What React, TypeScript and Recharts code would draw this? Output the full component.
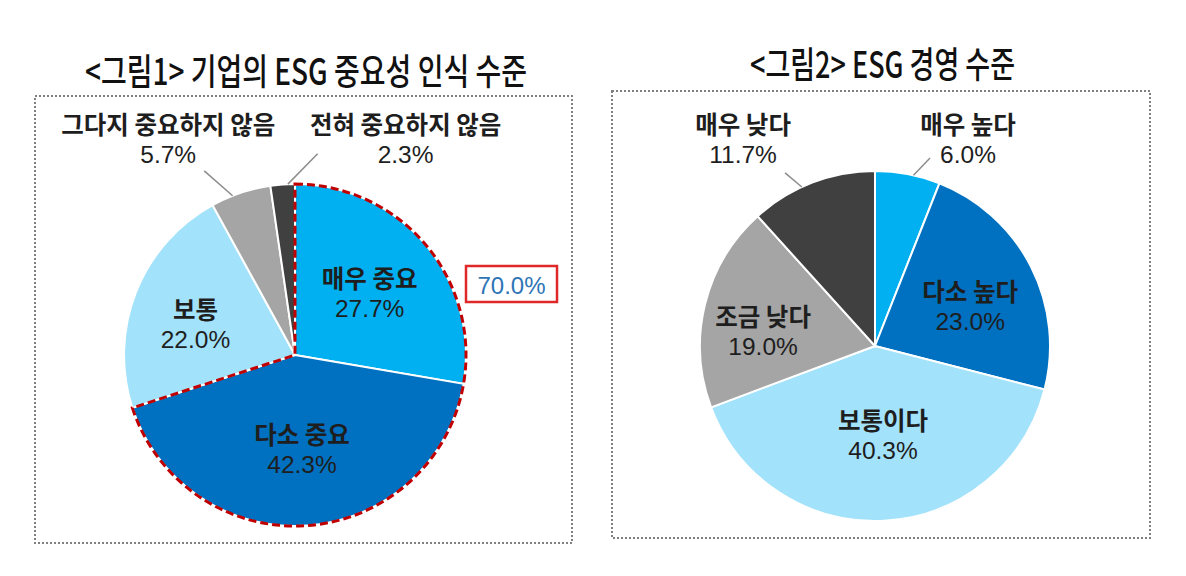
import React from "react";
import { PieChart, Pie, Cell } from "recharts";

// <그림1> 기업의 ESG 중요성 인식 수준
const LEFT_NAMES = ["매우 중요", "다소 중요", "보통", "그다지 중요하지 않음", "전혀 중요하지 않음"];
const LEFT_VALUES = [27.7, 42.3, 22.0, 5.7, 2.3];

// <그림2> ESG 경영 수준
const RIGHT_NAMES = ["매우 높다", "다소 높다", "보통이다", "조금 낮다", "매우 낮다"];
const RIGHT_VALUES = [6.0, 23.0, 40.3, 19.0, 11.7];

const SLICE_COLORS = ["#00B0F0", "#0070C0", "#A3E2FB", "#A5A5A5", "#404040"];

// 라벨 위치: [각도(deg), 반지름 배율]
const LEFT_LABEL_AT: [number, number][] = [
  [40, 0.57],
  [-85.7, 0.55],
  [162.6, 0.61],
  [120.4, 1.465],
  [62.9, 1.42],
];
const RIGHT_LABEL_AT: [number, number][] = [
  [65.8, 1.297],
  [22.8, 0.59],
  [-84.8, 0.505],
  [171.9, 0.646],
  [122.5, 1.403],
];

// 지시선: [시작 각도, 라벨 기준 끝점 dx, dy]
const LEFT_LEADERS: ([number, number, number] | null)[] = [null, null, null, [111.4, 36, 32], [92.4, -88, 15]];
const RIGHT_LEADERS: ([number, number, number] | null)[] = [[77.3, -38, 19], null, null, null, [114.7, 42, 34]];

const RADIAN = Math.PI / 180;
const KR_FONT = '"Noto Sans CJK KR", "Noto Sans", sans-serif';
const NUM_FONT = '"Liberation Sans", Arial, sans-serif';
const NO_MARGIN = { top: 0, right: 0, bottom: 0, left: 0 };

function polar(cx: number, cy: number, r: number, deg: number) {
  return { x: cx + r * Math.cos(deg * RADIAN), y: cy - r * Math.sin(deg * RADIAN) };
}

function makeLabel(
  names: string[],
  values: number[],
  at: [number, number][],
  leaders: ([number, number, number] | null)[]
) {
  return (props: any) => {
    const { cx, cy, outerRadius, index } = props;
    const [deg, k] = at[index];
    const p = polar(cx, cy, outerRadius * k, deg);
    const leader = leaders[index];
    let line = null;
    if (leader) {
      const s = polar(cx, cy, outerRadius, leader[0]);
      line = (
        <line x1={s.x} y1={s.y} x2={p.x + leader[1]} y2={p.y + leader[2]} stroke="#8C8C8C" strokeWidth={1.5} />
      );
    }
    return (
      <g>
        {line}
        <text
          x={p.x}
          y={p.y - 15}
          textAnchor="middle"
          dominantBaseline="central"
          fontFamily={KR_FONT}
          fontWeight={700}
          fontSize={24.5}
          fill="#1E1E1E"
        >
          {names[index]}
        </text>
        <text
          x={p.x}
          y={p.y + 16}
          textAnchor="middle"
          dominantBaseline="central"
          fontFamily={NUM_FONT}
          fontSize={24.5}
          fill="#1E1E1E"
        >
          {values[index].toFixed(1)}%
        </text>
      </g>
    );
  };
}

export default function App() {
  const leftData = LEFT_NAMES.map((name, i) => ({ name, value: LEFT_VALUES[i] }));
  const rightData = RIGHT_NAMES.map((name, i) => ({ name, value: RIGHT_VALUES[i] }));
  const important = LEFT_VALUES[0] + LEFT_VALUES[1];
  const highlight = [
    { name: "중요", value: important },
    { name: "기타", value: 100 - important },
  ];

  return (
    <div style={{ position: "absolute", left: 0, top: 0, width: 1186, height: 576, background: "#fff" }}>
      <svg width={1186} height={576} style={{ position: "absolute", left: 0, top: 0 }}>
        <text x={85} y={85} textLength={442} lengthAdjust="spacingAndGlyphs" fontFamily={KR_FONT} fontWeight={500} fontSize={36} fill="#111">
          {"<그림1> 기업의 ESG 중요성 인식 수준"}
        </text>
        <text x={750} y={78} textLength={265} lengthAdjust="spacingAndGlyphs" fontFamily={KR_FONT} fontWeight={500} fontSize={36} fill="#111">
          {"<그림2> ESG 경영 수준"}
        </text>
        <rect x={35} y={96} width={537} height={447} fill="none" stroke="#808080" strokeWidth={2} strokeDasharray="2 2" />
        <rect x={612} y={91} width={538} height={447} fill="none" stroke="#808080" strokeWidth={2} strokeDasharray="2 2" />
        <rect x={466} y={266} width={91} height={36} fill="#fff" stroke="#E02828" strokeWidth={2.5} />
        <text x={511.5} y={285} textAnchor="middle" dominantBaseline="central" fontFamily={NUM_FONT} fontSize={24} fill="#2E75B6">
          {important.toFixed(1)}%
        </text>
      </svg>

      <div style={{ position: "absolute", left: 35, top: 96 }}>
        <PieChart width={537} height={447} margin={NO_MARGIN}>
          <Pie
            data={leftData}
            dataKey="value"
            cx={260}
            cy={259}
            outerRadius={171}
            startAngle={90}
            endAngle={-270}
            stroke="#fff"
            strokeWidth={2}
            labelLine={false}
            label={makeLabel(LEFT_NAMES, LEFT_VALUES, LEFT_LABEL_AT, LEFT_LEADERS)}
            isAnimationActive={false}
          >
            {leftData.map((d, i) => (
              <Cell key={d.name} fill={SLICE_COLORS[i]} />
            ))}
          </Pie>
          <Pie
            data={highlight}
            dataKey="value"
            cx={260}
            cy={259}
            outerRadius={171}
            startAngle={90}
            endAngle={-270}
            label={false}
            labelLine={false}
            isAnimationActive={false}
          >
            <Cell fill="none" stroke="#C00000" strokeWidth={3} strokeDasharray="8 4" />
            <Cell fill="none" stroke="none" />
          </Pie>
        </PieChart>
      </div>

      <div style={{ position: "absolute", left: 612, top: 91 }}>
        <PieChart width={538} height={447} margin={NO_MARGIN}>
          <Pie
            data={rightData}
            dataKey="value"
            cx={263}
            cy={255}
            outerRadius={175}
            startAngle={90}
            endAngle={-270}
            stroke="#fff"
            strokeWidth={2}
            labelLine={false}
            label={makeLabel(RIGHT_NAMES, RIGHT_VALUES, RIGHT_LABEL_AT, RIGHT_LEADERS)}
            isAnimationActive={false}
          >
            {rightData.map((d, i) => (
              <Cell key={d.name} fill={SLICE_COLORS[i]} />
            ))}
          </Pie>
        </PieChart>
      </div>
    </div>
  );
}
